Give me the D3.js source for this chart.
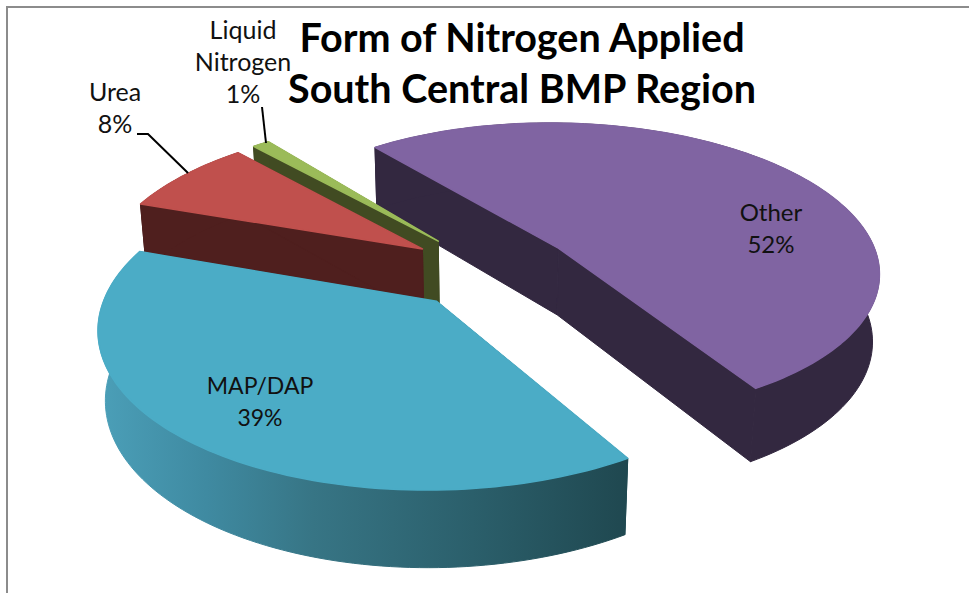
<!DOCTYPE html>
<html>
<head>
<meta charset="utf-8">
<script src="https://cdn.jsdelivr.net/npm/d3@7"></script>
<style>
html,body{margin:0;padding:0;background:#fff;overflow:hidden}
text{font-family:Lato,"Open Sans",sans-serif;fill:#111}
</style>
</head>
<body>
<div id="chart"></div>
<script>
// values, clockwise from the back left
var categories = ["Other", "MAP/DAP", "Urea", "Liquid Nitrogen"];
var percents = [52, 39, 8, 1];
var topColors = ["#8064a2", "#4bacc6", "#c0504d", "#9bbb59"];
var wallColors = ["#332840", "#205058", "#4f1f1e", "#414b22"];
var drawOrder = [0, 3, 2, 1]; // back to front
var titleLines = ["Form of Nitrogen Applied", "South Central BMP Region"];

var width = 969, height = 593;

var svg = d3.select("#chart").append("svg")
    .attr("width", width)
    .attr("height", height);

// chart area frame, only top and left show in the crop
svg.append("path")
    .attr("d", "M7,593V7H969")
    .attr("fill", "none")
    .attr("stroke", "#8c8c8c")
    .attr("stroke-width", 2);

var defs = svg.append("defs");
var grad = defs.append("linearGradient")
    .attr("id", "blueWall")
    .attr("gradientUnits", "userSpaceOnUse")
    .attr("x1", 100).attr("x2", 632).attr("y1", 0).attr("y2", 0);
[[0, "#4b9fb8"], [0.2, "#3f8aa1"], [0.4, "#377585"], [0.7, "#2b5f6b"], [1, "#1f474f"]].forEach(function(s){
    grad.append("stop").attr("offset", s[0]).attr("stop-color", s[1]);
});

// perspective settings for the tilted pie
var startDeg = -38.5;
var explode = 0.26;
var persp = 0.15;   // how much the near side grows
var persp2 = 0.018; // bottom face is a little further from the eye
var depth = 0.46;   // wall height, in plane units

var x = d3.scaleLinear().domain([-1, 1]).range([491 - 323, 491 + 323]);
var y = d3.scaleLinear().domain([-1, 1]).range([270 - 150, 270 + 150]);

var pie = d3.pie().sort(null)
    .startAngle(startDeg * Math.PI / 180)
    .endAngle((startDeg + 360) * Math.PI / 180);
var slices = pie(percents);

function project(s, angle, r, bottom) {
    var mid = (s.startAngle + s.endAngle) / 2;
    var X = explode * Math.sin(mid) + r * Math.sin(angle);
    var Y = -explode * Math.cos(mid) - r * Math.cos(angle);
    var w = 1 - persp * Y + (bottom ? persp2 : 0);
    return [x(X / w), y((Y + (bottom ? depth : 0)) / w)];
}

function arcAngles(s) {
    var n = Math.max(4, Math.ceil((s.endAngle - s.startAngle) * 40));
    return d3.range(n + 1).map(function(i){
        return s.startAngle + (s.endAngle - s.startAngle) * i / n;
    });
}

var line = d3.line();

drawOrder.forEach(function(i){
    var s = slices[i];
    var g = svg.append("g").attr("class", "slice");
    var angles = arcAngles(s);

    // the two cut faces
    [s.startAngle, s.endAngle].forEach(function(a){
        g.append("path")
            .attr("d", line([
                project(s, 0, 0, false), project(s, a, 1, false),
                project(s, a, 1, true), project(s, 0, 0, true)
            ]) + "Z")
            .attr("fill", wallColors[i])
            .attr("stroke", wallColors[i])
            .attr("stroke-width", 1);
    });

    // outer rim
    var rimTop = angles.map(function(a){ return project(s, a, 1, false); });
    var rimBottom = angles.map(function(a){ return project(s, a, 1, true); }).reverse();
    g.append("path")
        .attr("d", line(rimTop.concat(rimBottom)) + "Z")
        .attr("fill", i == 1 ? "url(#blueWall)" : wallColors[i])
        .attr("stroke", i == 1 ? "url(#blueWall)" : wallColors[i])
        .attr("stroke-width", 1);

    // top face, stroked so the wall edge does not peek out behind it
    g.append("path")
        .attr("d", line([project(s, 0, 0, false)].concat(rimTop)) + "Z")
        .attr("fill", topColors[i])
        .attr("stroke", topColors[i])
        .attr("stroke-width", 1.5)
        .attr("stroke-linejoin", "round");
});

// leader lines
[["M137,134H148L188,173"], ["M262,107L266,143"]].forEach(function(d){
    svg.append("path")
        .attr("d", d[0])
        .attr("fill", "none")
        .attr("stroke", "#000")
        .attr("stroke-width", 2);
});

function label(cx, baseline, size, lines) {
    lines.forEach(function(t, k){
        svg.append("text")
            .attr("x", cx)
            .attr("y", baseline + k * 32)
            .attr("text-anchor", "middle")
            .attr("font-size", size)
            .text(t);
    });
}
label(771, 221, 24, [categories[0], percents[0] + "%"]);
label(260, 394, 23, [categories[1], percents[1] + "%"]);
label(115, 101, 25, [categories[2], percents[2] + "%"]);
label(243, 39, 25, ["Liquid", "Nitrogen", percents[3] + "%"]);

titleLines.forEach(function(t, k){
    svg.append("text")
        .attr("x", 522)
        .attr("y", 52 + k * 51)
        .attr("text-anchor", "middle")
        .attr("font-size", 39.5)
        .attr("font-weight", 700)
        .style("fill", "#000")
        .text(t);
});
</script>
</body>
</html>
